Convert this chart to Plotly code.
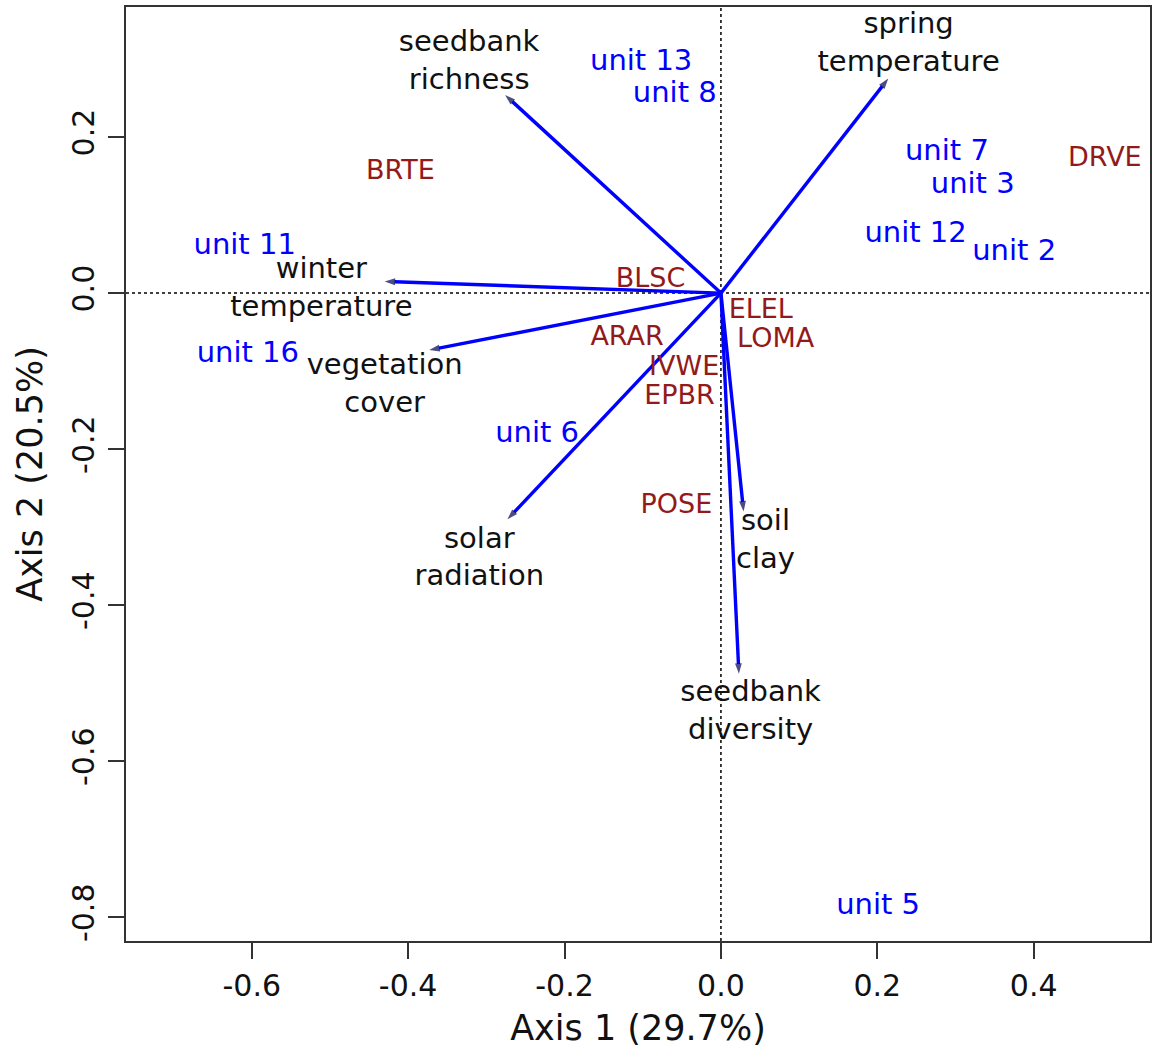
import plotly.graph_objects as go

# Environmental vectors (arrow tips) and their label positions
env_names = ["seedbank<br>richness", "spring<br>temperature", "winter<br>temperature",
             "vegetation<br>cover", "solar<br>radiation", "soil<br>clay", "seedbank<br>diversity"]
env_x = [-0.276, 0.214, -0.430, -0.373, -0.273, 0.029, 0.023]
env_y = [0.254, 0.275, 0.015, -0.073, -0.290, -0.280, -0.488]
env_label_x = [-0.322, 0.240, -0.511, -0.430, -0.309, 0.057, 0.038]
env_label_y = [0.295, 0.318, 0.004, -0.119, -0.341, -0.319, -0.538]

# Sampling units (site scores)
unit_names = ["unit 13", "unit 8", "unit 7", "unit 3", "unit 12", "unit 2",
              "unit 11", "unit 16", "unit 6", "unit 5"]
unit_x = [-0.102, -0.059, 0.289, 0.322, 0.249, 0.375, -0.609, -0.605, -0.235, 0.201]
unit_y = [0.295, 0.254, 0.180, 0.137, 0.075, 0.052, 0.060, -0.079, -0.181, -0.786]

# Species scores
species_names = ["BRTE", "DRVE", "BLSC", "ELEL", "LOMA", "ARAR", "IVWE", "EPBR", "POSE"]
species_x = [-0.410, 0.491, -0.090, 0.051, 0.070, -0.120, -0.047, -0.053, -0.057]
species_y = [0.155, 0.171, 0.017, -0.023, -0.060, -0.058, -0.096, -0.133, -0.273]

x_ticks = [-0.6, -0.4, -0.2, 0.0, 0.2, 0.4]
x_tick_text = ["-0.6", "-0.4", "-0.2", "0.0", "0.2", "0.4"]
y_ticks = [-0.8, -0.6, -0.4, -0.2, 0.0, 0.2]
y_tick_text = ["-0.8", "-0.6", "-0.4", "-0.2", "0.0", "0.2"]

FONT = "DejaVu Sans, Verdana, sans-serif"
BLUE = "#0000FF"
DARKRED = "#931a1a"

fig = go.Figure()

# Arrows from origin
for name, ex, ey in zip(env_names, env_x, env_y):
    fig.add_trace(go.Scatter(
        x=[0, ex], y=[0, ey], mode="lines+markers",
        line=dict(color=BLUE, width=3.4),
        marker=dict(symbol="arrow", size=[0, 11], angleref="previous",
                    color="#000050", line=dict(width=0)),
        hoverinfo="skip", showlegend=False,
    ))

fig.add_trace(go.Scatter(
    x=env_label_x, y=env_label_y, mode="text", text=env_names,
    textposition="middle center",
    textfont=dict(family=FONT, size=29, color="#111111"),
    hoverinfo="skip", showlegend=False,
))

fig.add_trace(go.Scatter(
    x=unit_x, y=unit_y, mode="text", text=unit_names,
    textposition="middle center",
    textfont=dict(family=FONT, size=29, color=BLUE),
    hoverinfo="skip", showlegend=False,
))

fig.add_trace(go.Scatter(
    x=species_x, y=species_y, mode="text", text=species_names,
    textposition="middle center",
    textfont=dict(family=FONT, size=27, color=DARKRED),
    hoverinfo="skip", showlegend=False,
))

fig.add_hline(y=0, line=dict(color="black", width=1.5, dash="dot"), layer="below")
fig.add_vline(x=0, line=dict(color="black", width=1.5, dash="dot"), layer="below")

axis_common = dict(
    showgrid=False, zeroline=False, showline=True, mirror=True,
    linecolor="#333333", linewidth=2,
    ticks="outside", ticklen=16, tickwidth=2, tickcolor="#333333",
    tickfont=dict(family=FONT, size=30, color="#111111"),
)

fig.update_layout(
    width=1154, height=1057,
    margin=dict(l=126, r=2, t=7, b=116),
    paper_bgcolor="white", plot_bgcolor="white",
    font=dict(family=FONT),
    xaxis=dict(range=[-0.7608, 0.5487], tickvals=x_ticks, ticktext=x_tick_text,
               ticklabelstandoff=1,
               title=dict(text="Axis 1 (29.7%)", font=dict(family=FONT, size=35, color="#111111"),
                          standoff=13),
               **axis_common),
    yaxis=dict(range=[-0.8304, 0.3667], tickvals=y_ticks, ticktext=y_tick_text,
               tickangle=-90, ticklabelstandoff=2,
               title=dict(text="Axis 2 (20.5%)", font=dict(family=FONT, size=35, color="#111111"),
                          standoff=13),
               **axis_common),
)

fig.write_html("out.html")
